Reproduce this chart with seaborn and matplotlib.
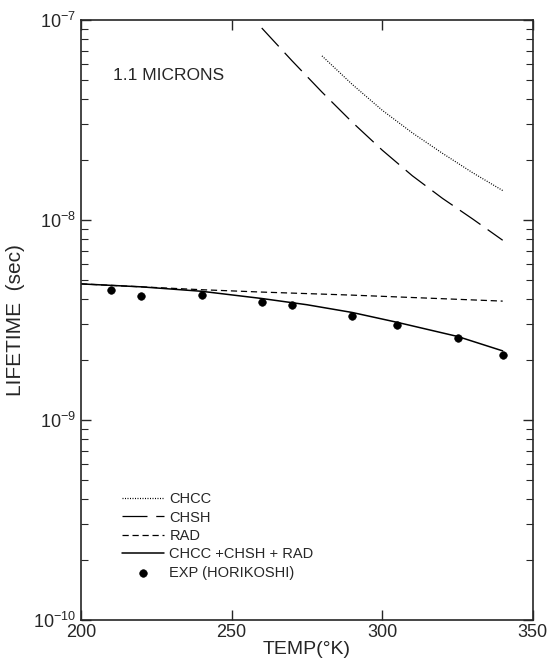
import numpy as np
import pandas as pd
import seaborn as sns
import matplotlib.pyplot as plt
from matplotlib.ticker import LogLocator, FixedLocator, NullFormatter

# values (temperature in K, lifetime in s)
temp_exp = [210, 220, 240, 260, 270, 290, 305, 325, 340]
life_exp = [4.45e-9, 4.17e-9, 4.22e-9, 3.89e-9, 3.74e-9, 3.29e-9, 2.97e-9, 2.56e-9, 2.10e-9]

temp_rad = [200, 220, 240, 260, 290, 320, 340]
life_rad = [4.78e-9, 4.62e-9, 4.47e-9, 4.35e-9, 4.20e-9, 4.03e-9, 3.92e-9]

temp_tot = [200, 220, 240, 260, 275, 290, 305, 325, 340]
life_tot = [4.78e-9, 4.62e-9, 4.39e-9, 4.04e-9, 3.76e-9, 3.44e-9, 3.07e-9, 2.61e-9, 2.21e-9]

temp_chsh = [260, 270, 280, 290, 300, 310, 320, 330, 340]
life_chsh = [9.1e-8, 6.25e-8, 4.35e-8, 3.08e-8, 2.23e-8, 1.66e-8, 1.28e-8, 1.01e-8, 7.9e-9]

temp_chcc = [280, 290, 300, 310, 320, 330, 340]
life_chcc = [6.6e-8, 4.76e-8, 3.53e-8, 2.72e-8, 2.15e-8, 1.72e-8, 1.40e-8]

sns.set_style("ticks")
plt.rcParams['font.family'] = ['Liberation Sans', 'DejaVu Sans']

fig = plt.figure(figsize=(5.55, 6.6), dpi=100)
ax = fig.add_axes([0.146, 0.061, 0.814, 0.909])

sns.lineplot(x=temp_chcc, y=life_chcc, ax=ax, color='k', lw=0.9,
             linestyle=(0, (0.8, 1.2)), label='CHCC')
sns.lineplot(x=temp_chsh, y=life_chsh, ax=ax, color='k', lw=0.9,
             linestyle=(0, (20, 7)), label='CHSH')
sns.lineplot(x=temp_rad, y=life_rad, ax=ax, color='k', lw=0.9,
             linestyle=(0, (5, 3)), label='RAD')
sns.lineplot(x=temp_tot, y=life_tot, ax=ax, color='k', lw=1.1,
             label='CHCC +CHSH + RAD')
sns.scatterplot(x=temp_exp, y=life_exp, ax=ax, color='k', s=30,
                edgecolor='k', label='EXP (HORIKOSHI)', zorder=5)

ax.set_yscale('log')
ax.set_xlim(200, 350)
ax.set_ylim(1e-10, 1e-7)
ax.xaxis.set_major_locator(FixedLocator([200, 250, 300, 350]))
ax.yaxis.set_major_locator(LogLocator(base=10, numticks=10))
ax.yaxis.set_minor_locator(LogLocator(base=10, subs=np.arange(2, 10), numticks=20))
ax.yaxis.set_minor_formatter(NullFormatter())
ax.tick_params(which='both', direction='in', top=True, right=True, labelsize=13)
ax.tick_params(axis='x', pad=3)
ax.tick_params(which='major', length=7, width=1)
ax.tick_params(which='minor', length=5, width=0.8)
for s in ax.spines.values():
    s.set_linewidth(1.2)

ax.set_xlabel('TEMP(°K)', fontsize=14, labelpad=0)
ax.set_ylabel('LIFETIME  (sec)', fontsize=15, labelpad=6)
ax.text(0.07, 0.9, '1.1 MICRONS', transform=ax.transAxes, fontsize=12.5)

ax.legend(loc='lower left', bbox_to_anchor=(0.078, 0.057), frameon=False,
          fontsize=10.5, handlelength=2.9, handletextpad=0.35,
          labelspacing=0.3, borderaxespad=0)

fig.savefig('out.png', dpi=100)
plt.close(fig)
